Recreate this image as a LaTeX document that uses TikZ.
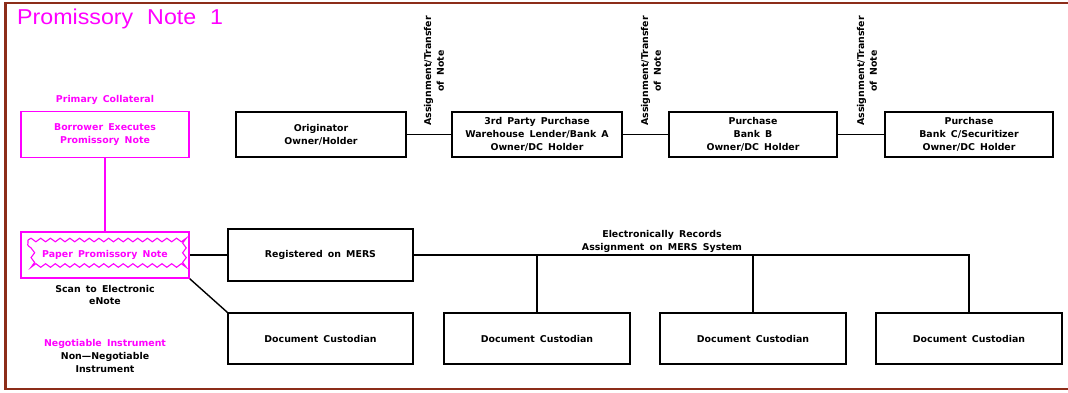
\documentclass[tikz,border=0pt]{standalone}
\usepackage{fontspec}
\setmainfont{DejaVu Sans}
\newfontfamily\titlefont{Liberation Sans}
\usetikzlibrary{decorations.pathmorphing}
\definecolor{mag}{RGB}{255,0,255}
\definecolor{framec}{RGB}{140,45,25}
\begin{document}
\begin{tikzpicture}[x=1pt,y=-1pt,
  txt/.style={font=\bfseries\fontsize{9.4}{12.9}\selectfont,align=center,inner sep=0pt,
    execute at begin node={\spaceskip=0.55em}},
  bx/.style={txt,draw=black,line width=1.4pt,minimum height=45pt,minimum width=170pt},
  mbx/.style={txt,draw=mag,text=mag,line width=1.5pt,minimum height=46pt,minimum width=168pt},
  conn/.style={line width=1.4pt,black},
  mconn/.style={line width=1.4pt,mag},
  rot/.style={txt,rotate=90}]
\useasboundingbox (0,0) rectangle (1068,392);
% frame
\draw[framec,line width=2.2pt] (1068,3) -- (5.5,3) -- (5.5,389) -- (1068,389);
\node[anchor=base west,text=mag,inner sep=0pt,xscale=1.08,font=\titlefont\fontsize{21.5}{24}\selectfont,
  execute at begin node={\spaceskip=0.6em}] (title) at (17,24) {Promissory Note 1};
% left column
\node[txt,text=mag] (pc) at (105,100) {Primary Collateral};
\node[mbx] (bex) at (105,134.5) {Borrower Executes\\Promissory Note};
\node[mbx] (paper) at (105,255) {Paper Promissory Note};
\draw[mag,line width=1.1pt,decorate,decoration={snake,segment length=9.7pt,amplitude=1.8pt}]
  (28,240) -- (182,240) -- (182,270) -- (28,270) -- cycle;
\node[txt] (scan) at (105,295) {Scan to Electronic\\eNote};
\node[txt,text=mag] (neg) at (105,344) {Negotiable Instrument};
\node[txt] (nonneg) at (105,362.5) {Non---Negotiable\\Instrument};
% top row
\node[bx] (orig) at (321,134.5) {Originator\\Owner/Holder};
\node[bx] (bankA) at (537,134.5) {3rd Party Purchase\\Warehouse Lender/Bank A\\Owner/DC Holder};
\node[bx,minimum width=168pt] (bankB) at (753,134.5) {Purchase\\Bank B\\Owner/DC Holder};
\node[bx,minimum width=168pt] (bankC) at (969,134.5) {Purchase\\Bank C/Securitizer\\Owner/DC Holder};
\node[rot] (lab1) at (434,71) {Assignment/Transfer\\of Note};
\node[rot] (lab2) at (651,71) {Assignment/Transfer\\of Note};
\node[rot] (lab3) at (867,71) {Assignment/Transfer\\of Note};
\draw[conn] (orig.east) -- (bankA.west);
\draw[conn] (bankA.east) -- (bankB.west);
\draw[conn] (bankB.east) -- (bankC.west);
% bottom row
\node[bx,minimum width=185pt,minimum height=52pt] (mers) at (320.5,255) {Registered on MERS};
\node[bx,minimum width=185pt,minimum height=51pt] (dc1) at (320.5,338.5) {Document Custodian};
\node[bx,minimum width=186pt,minimum height=51pt] (dc2) at (537,338.5) {Document Custodian};
\node[bx,minimum width=186pt,minimum height=51pt] (dc3) at (753,338.5) {Document Custodian};
\node[bx,minimum width=186pt,minimum height=51pt] (dc4) at (969,338.5) {Document Custodian};
\node[txt] (elec) at (662,241) {Electronically Records\\Assignment on MERS System};
\coordinate (bend) at (dc4.north |- mers.east);
\draw[mconn] (bex.south) -- (paper.north);
\draw[conn] (paper.east) -- (mers.west);
\draw[conn] (paper.south east) -- (dc1.north west);
\draw[conn] (mers.east) -- (bend) -- (dc4.north);
\draw[conn] (dc2.north) -- (dc2.north |- mers.east);
\draw[conn] (dc3.north) -- (dc3.north |- mers.east);
\end{tikzpicture}
\end{document}
